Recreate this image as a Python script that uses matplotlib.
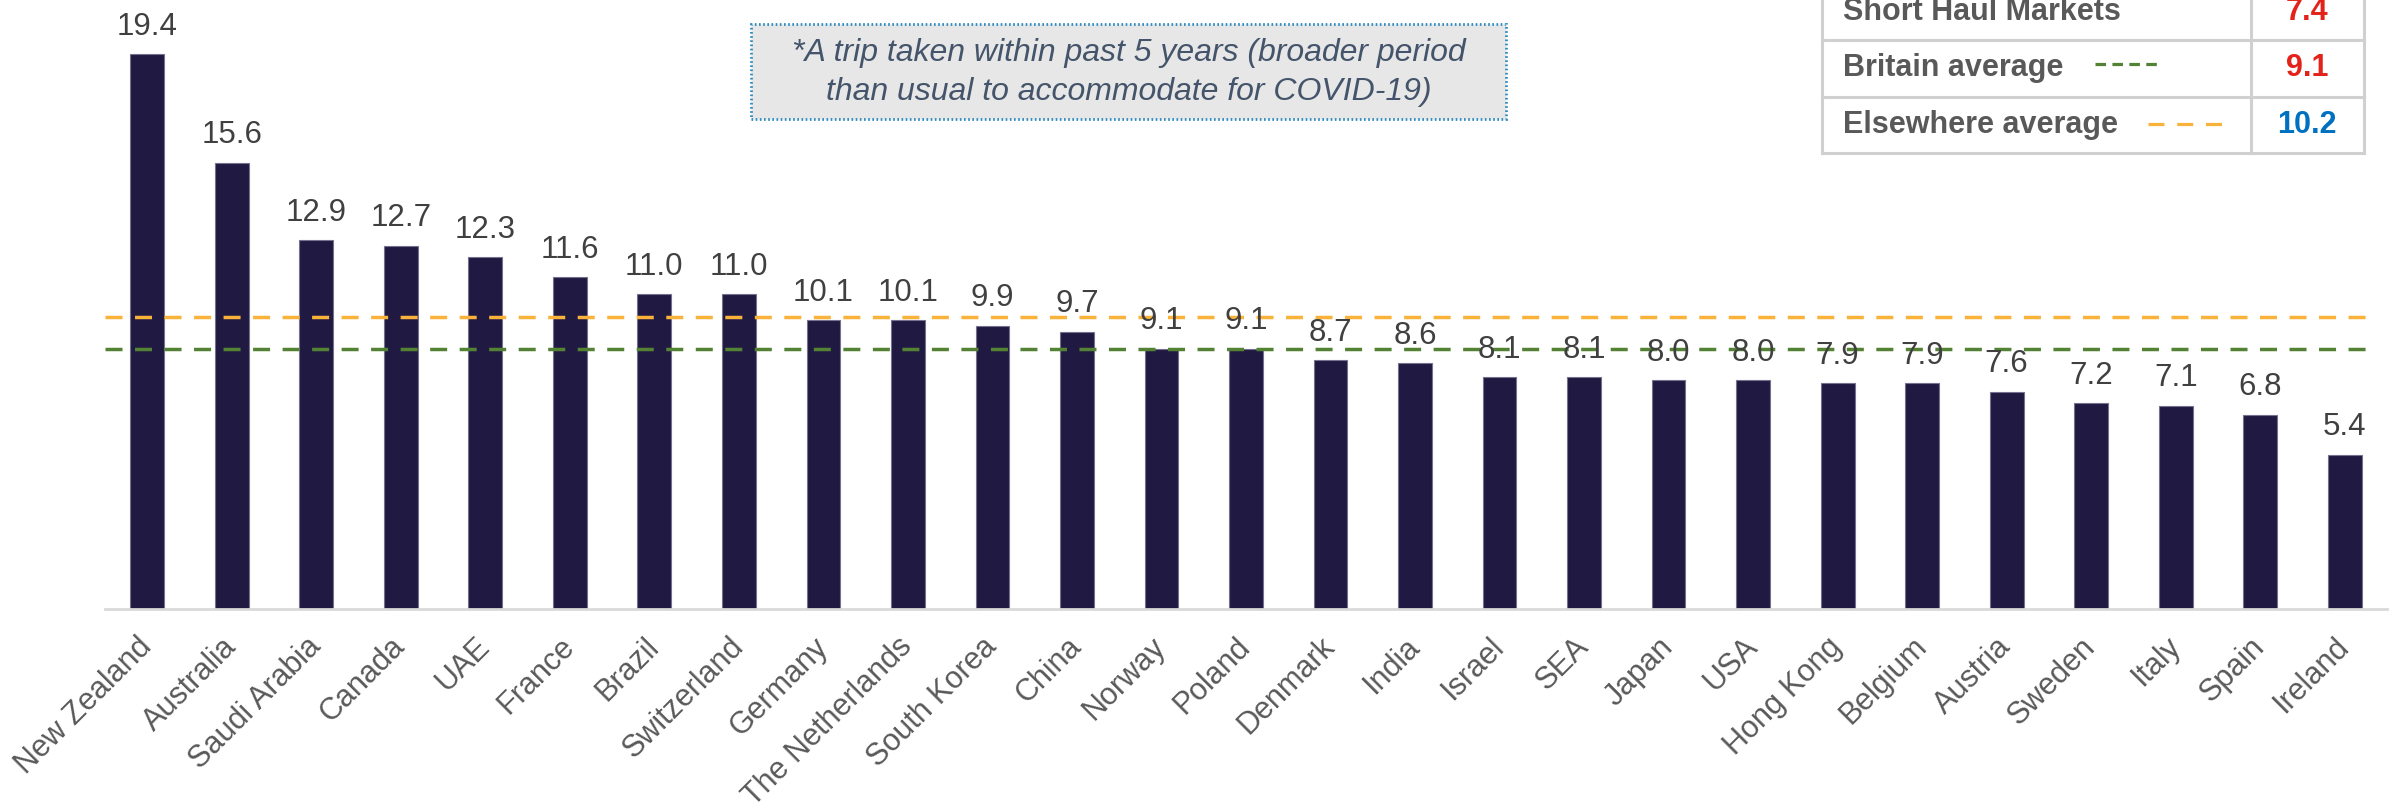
import matplotlib
matplotlib.use("Agg")
import matplotlib.pyplot as plt
from matplotlib.patches import Rectangle
from matplotlib.lines import Line2D

countries = ["New Zealand", "Australia", "Saudi Arabia", "Canada", "UAE", "France",
             "Brazil", "Switzerland", "Germany", "The Netherlands", "South Korea",
             "China", "Norway", "Poland", "Denmark", "India", "Israel", "SEA", "Japan",
             "USA", "Hong Kong", "Belgium", "Austria", "Sweden", "Italy", "Spain", "Ireland"]
values = [19.4, 15.6, 12.9, 12.7, 12.3, 11.6, 11.0, 11.0, 10.1, 10.1, 9.9, 9.7, 9.1,
          9.1, 8.7, 8.6, 8.1, 8.1, 8.0, 8.0, 7.9, 7.9, 7.6, 7.2, 7.1, 6.8, 5.4]
britain_avg = 9.1
elsewhere_avg = 10.2
short_haul = 7.4
table_labels = ["Short Haul Markets", "Britain average", "Elsewhere average"]
table_values = [short_haul, britain_avg, elsewhere_avg]
note = "*A trip taken within past 5 years (broader period\nthan usual to accommodate for COVID-19)"

W, H = 2394, 811
fig = plt.figure(figsize=(W / 100, H / 100), dpi=100)
plt.rcParams['font.family'] = ['Liberation Sans', 'DejaVu Sans']

def fx(px):
    return px / W

def fy(py):
    return 1 - py / H

ax_left, ax_right, ax_base = 105, 2387, 609
ax = fig.add_axes([fx(ax_left), fy(ax_base), (ax_right - ax_left) / W, ax_base / H])
ax.set_xlim(-0.5, len(countries) - 0.5)
ax.set_ylim(0, ax_base / 28.6)

bar_color = "#201A42"
x = list(range(len(countries)))
bars = ax.bar(x, values, width=0.4, color=bar_color, edgecolor="#75718F",
              linewidth=0.8, zorder=2)
for xi, v in zip(x, values):
    ax.annotate(f"{v:.1f}", (xi, v), xytext=(0, 14), textcoords="offset points",
                ha="center", va="baseline", fontsize=22.5, color="#404040", zorder=4)

ax.axhline(elsewhere_avg, xmin=0, xmax=0.991, color="#F9B23A", lw=2.5,
           linestyle=(0, (4.9, 3.6)), zorder=3)
ax.axhline(britain_avg, xmin=0, xmax=0.991, color="#548235", lw=2.5,
           linestyle=(0, (4.9, 3.6)), zorder=3)

for s in ["top", "right", "left"]:
    ax.spines[s].set_visible(False)
ax.spines["bottom"].set_color("#D9D9D9")
ax.spines["bottom"].set_linewidth(2)
ax.set_yticks([])
ax.set_xticks(x)
ax.set_xticklabels(countries, rotation=45, ha="right", va="center",
                   rotation_mode="anchor", fontsize=22, color="#595959")
ax.tick_params(axis="x", length=0, pad=24)

# Note box
bx0, by0, bx1, by1 = 751, 24, 1506, 119
box = Rectangle((fx(bx0), fy(by1)), fx(bx1) - fx(bx0), fy(by0) - fy(by1),
                transform=fig.transFigure, facecolor="#E7E7E7", edgecolor="#2E8BC0",
                linewidth=2, linestyle=(0, (0.6, 0.9)), zorder=5)
fig.add_artist(box)
fig.text(fx((bx0 + bx1) / 2), fy((by0 + by1) / 2 + 1), note, ha="center", va="center",
         fontsize=23, style="italic", color="#44546A", linespacing=1.35, zorder=6)

# Legend table
tx0, tx1, tdiv = 1822, 2364, 2251
row_lines = [40, 97, 153]
gray = "#D0D0D0"

def fline(x0, y0, x1, y1, **kw):
    fig.add_artist(Line2D([fx(x0), fx(x1)], [fy(y0), fy(y1)], transform=fig.transFigure, **kw))

tbl_bg = Rectangle((fx(tx0), fy(153)), fx(tx1) - fx(tx0), fy(-20) - fy(153),
                   transform=fig.transFigure, facecolor="white", edgecolor="none", zorder=5)
fig.add_artist(tbl_bg)
for ry in row_lines:
    fline(tx0, ry, tx1, ry, color=gray, lw=2.2, zorder=6)
for vx in [tx0, tdiv, tx1]:
    fline(vx, -5, vx, 153, color=gray, lw=2.2, zorder=6)

row_centers = [12, 68, 125]
val_colors = ["#E32219", "#E32219", "#0070C0"]
for lbl, val, yc, vc in zip(table_labels, table_values, row_centers, val_colors):
    fig.text(fx(1843), fy(yc), lbl, ha="left", va="center", fontsize=22,
             fontweight="bold", color="#595959", zorder=7)
    fig.text(fx(2307), fy(yc), f"{val:.1f}", ha="center", va="center", fontsize=22,
             fontweight="bold", color=vc, zorder=7)

fline(2095, 64, 2157, 64, color="#548235", lw=2.3, linestyle=(0, (3.3, 2.0)), zorder=7)
fline(2148, 124, 2224, 124, color="#F9B23A", lw=2.3, linestyle=(0, (5.0, 4.0)), zorder=7)

fig.savefig("out.png", dpi=100)
